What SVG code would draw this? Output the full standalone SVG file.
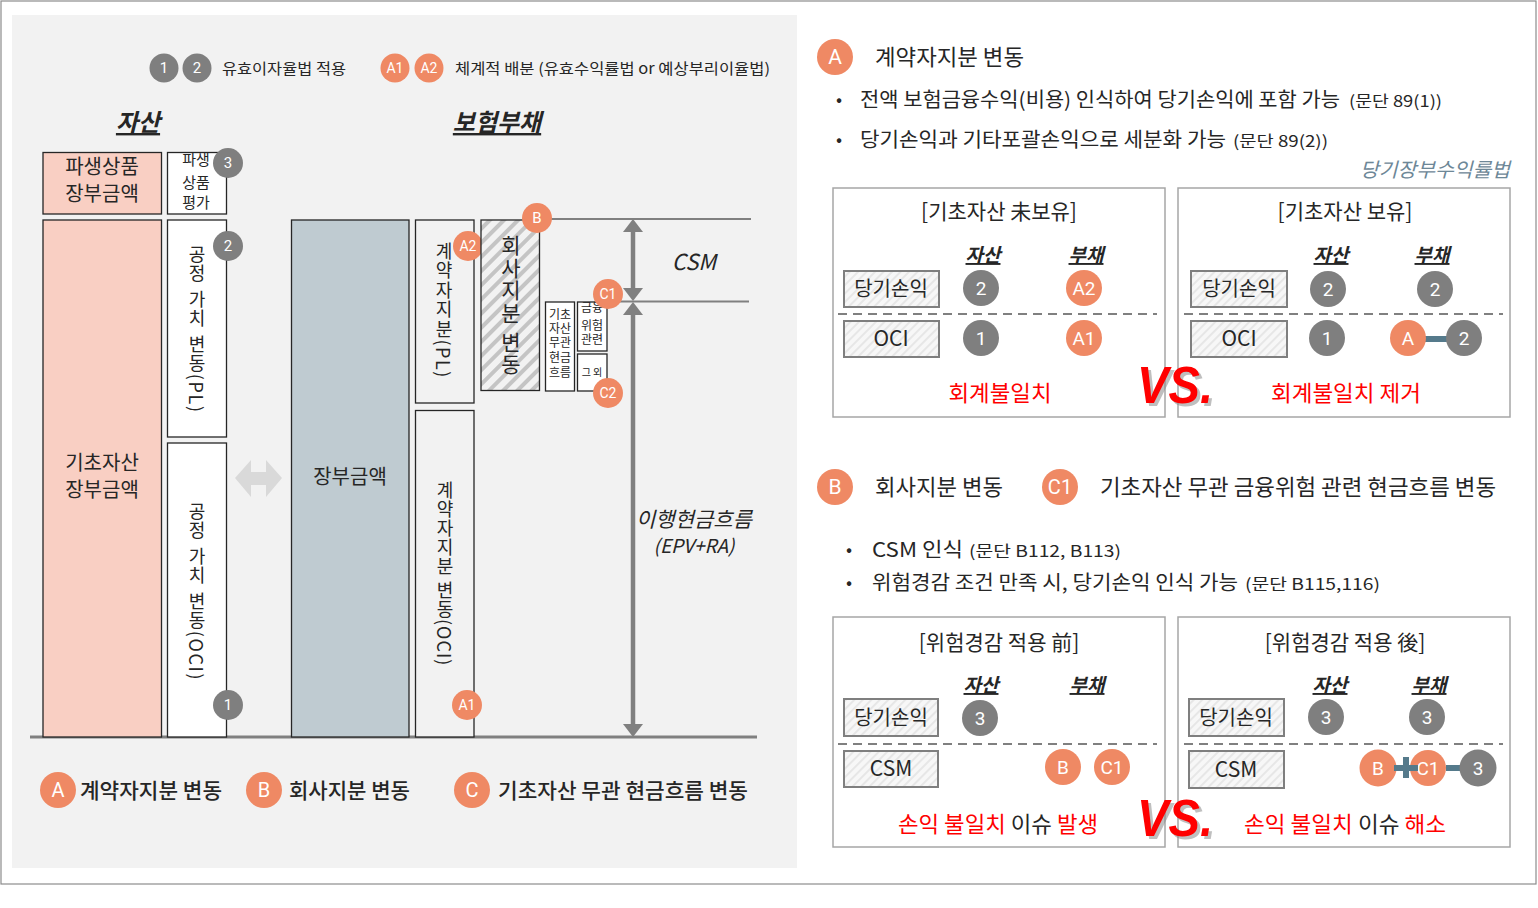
<svg xmlns="http://www.w3.org/2000/svg" width="1538" height="908" viewBox="0 0 1538 908">
<defs>
<style>
.k{font-family:"Noto Sans CJK KR","Noto Sans",sans-serif;fill:#262626}
.cl{font-family:Roboto,"Liberation Sans",sans-serif;fill:#fff;text-anchor:middle;dominant-baseline:central}
.g{fill:#7f7f7f}
.o{fill:#ef8964}
.vt{writing-mode:vertical-rl;font-family:"Noto Sans CJK KR",sans-serif;fill:#262626}
.bx{stroke:#262626;stroke-width:1.3}
.lb{fill:url(#hatchL);stroke:#7f7f7f;stroke-width:2}
.pn{fill:#fff;stroke:#a6a6a6;stroke-width:1.5}
.hd{font-weight:bold;font-style:italic;text-decoration:underline}
.red{fill:#ff0000}
.mid{text-anchor:middle}
.dash{stroke:#808080;stroke-width:2;stroke-dasharray:9 6}
.gl{stroke:#808080;fill:none}
.ah{fill:#808080}
.bar{fill:#557a8b}
.vs{font-family:"Liberation Sans",Arial,sans-serif;font-weight:bold;font-style:italic;font-size:52px}
</style>
<pattern id="hatchD" width="10" height="10" patternUnits="userSpaceOnUse" patternTransform="rotate(45)">
<rect width="10" height="10" fill="#f2f2f2"/>
<line x1="2" y1="0" x2="2" y2="10" stroke="#c4c4c4" stroke-width="4"/>
</pattern>
<pattern id="hatchL" width="6" height="6" patternUnits="userSpaceOnUse" patternTransform="rotate(45)">
<rect width="6" height="6" fill="#f7f7f7"/>
<line x1="1" y1="0" x2="1" y2="6" stroke="#dcdcdc" stroke-width="1.2"/>
</pattern>
</defs>

<rect x="1" y="1" width="1535" height="883" fill="#fff" stroke="#8c8c8c" stroke-width="1.2"/>
<rect x="12" y="15" width="785" height="853" fill="#f2f2f2"/>

<!-- Left legend -->
<g id="legend-top">
<circle cx="164" cy="68" r="14.5" class="g"/><text x="164" y="68" class="cl" font-size="15">1</text>
<circle cx="197" cy="68" r="14.5" class="g"/><text x="197" y="68" class="cl" font-size="15">2</text>
<text x="222" y="74" class="k" font-size="15" textLength="124" lengthAdjust="spacingAndGlyphs">유효이자율법 적용</text>
<circle cx="395" cy="68" r="14.5" class="o"/><text x="395" y="68" class="cl" font-size="14">A1</text>
<circle cx="429" cy="68" r="14.5" class="o"/><text x="429" y="68" class="cl" font-size="14">A2</text>
<text x="455" y="74" class="k" font-size="15" textLength="315" lengthAdjust="spacingAndGlyphs">체계적 배분  (유효수익률법 or 예상부리이율법)</text>
</g>

<text x="138" y="131" class="k hd mid" font-size="24">자산</text>
<text x="497" y="131" class="k hd mid" font-size="24">보험부채</text>

<!-- connectors / lines -->
<g id="connectors">
<line x1="30" y1="737" x2="757" y2="737" class="gl" stroke-width="3"/>
<line x1="540" y1="219" x2="751" y2="219" class="gl" stroke-width="2"/>
<line x1="610" y1="301.5" x2="749" y2="301.5" class="gl" stroke-width="2"/>
<line x1="633" y1="228" x2="633" y2="292" class="gl" stroke-width="4.5"/>
<polygon points="633,219 623,232 643,232" class="ah"/>
<polygon points="633,301 623,288 643,288" class="ah"/>
<line x1="633" y1="312" x2="633" y2="728" class="gl" stroke-width="4.5"/>
<polygon points="633,302 623,315 643,315" class="ah"/>
<polygon points="633,737 623,724 643,724" class="ah"/>
<polygon points="235,478 251,460 251,472 266,472 266,460 282,478 266,497 266,485 251,485 251,497" fill="#d9d9d9"/>
</g>

<!-- Asset side -->
<g id="deriv-amount">
<rect x="43" y="152.5" width="118.5" height="61.5" fill="#f9cfc3" class="bx"/>
<text x="102" y="174" class="k mid" font-size="20">파생상품</text>
<text x="102" y="201" class="k mid" font-size="20">장부금액</text>
</g>
<g id="deriv-eval">
<rect x="167.5" y="152.5" width="59" height="61.5" fill="#fff" class="bx"/>
<text x="196" y="165" class="k mid" font-size="15">파생</text>
<text x="196" y="188" class="k mid" font-size="15">상품</text>
<text x="196" y="208" class="k mid" font-size="15">평가</text>
<circle cx="228" cy="163" r="15" class="g"/><text x="228" y="163" class="cl" font-size="15">3</text>
</g>
<g id="underlying-amount">
<rect x="43" y="220" width="118.5" height="517" fill="#f9cfc3" class="bx"/>
<text x="102" y="470" class="k mid" font-size="20">기초자산</text>
<text x="102" y="497" class="k mid" font-size="20">장부금액</text>
</g>
<g id="fv-pl">
<rect x="167.5" y="220" width="59" height="217" fill="#fff" class="bx"/>
<text x="197" y="245" class="vt" font-size="18" letter-spacing="1.6">공정 가치 변동(PL)</text>
<circle cx="228" cy="246" r="15" class="g"/><text x="228" y="246" class="cl" font-size="15">2</text>
</g>
<g id="fv-oci">
<rect x="167.5" y="443" width="59" height="294" fill="#fff" class="bx"/>
<text x="197" y="502" class="vt" font-size="18" letter-spacing="1.6">공정 가치 변동(OCI)</text>
<circle cx="228" cy="705" r="15" class="g"/><text x="228" y="705" class="cl" font-size="15">1</text>
</g>

<!-- Liability side -->
<g id="carrying">
<rect x="291.5" y="220" width="117.5" height="517" fill="#bfcbd1" class="bx"/>
<text x="350" y="484" class="k mid" font-size="20">장부금액</text>
</g>
<g id="ph-pl">
<rect x="415.5" y="220" width="58.5" height="183" fill="#f2f2f2" class="bx"/>
<text x="444" y="242" class="vt" font-size="18" letter-spacing="1.5">계약자지분(PL)</text>
<circle cx="468" cy="246" r="15" class="o"/><text x="468" y="246" class="cl" font-size="14">A2</text>
</g>
<g id="ph-oci">
<rect x="415.5" y="410.5" width="58.5" height="326.5" fill="#f2f2f2" class="bx"/>
<text x="445" y="481" class="vt" font-size="18" letter-spacing="1">계약자지분 변동(OCI)</text>
<circle cx="467" cy="705" r="15" class="o"/><text x="467" y="705" class="cl" font-size="14">A1</text>
</g>
<g id="company">
<rect x="481" y="220" width="58.5" height="170.5" fill="url(#hatchD)" class="bx"/>
<text x="511" y="235" class="vt" font-size="21" letter-spacing="1.5">회사지분 변동</text>
<circle cx="537" cy="218" r="15" class="o"/><text x="537" y="218" class="cl" font-size="15">B</text>
</g>
<g id="unrelated-cf">
<rect x="545.5" y="302" width="29" height="89" fill="#fff" class="bx"/>
<text x="560" y="319" class="k mid" font-size="12">기초</text>
<text x="560" y="333" class="k mid" font-size="12">자산</text>
<text x="560" y="347" class="k mid" font-size="12">무관</text>
<text x="560" y="362" class="k mid" font-size="12">현금</text>
<text x="560" y="377" class="k mid" font-size="12">흐름</text>
</g>
<g id="fin-risk">
<rect x="577.5" y="302" width="29.5" height="49" fill="#fff" class="bx"/>
<text x="592" y="312" class="k mid" font-size="12">금융</text>
<text x="592" y="330" class="k mid" font-size="12">위험</text>
<text x="592" y="344" class="k mid" font-size="12">관련</text>
<circle cx="608" cy="294" r="15" class="o"/><text x="608" y="294" class="cl" font-size="14">C1</text>
</g>
<g id="other">
<rect x="577.5" y="354" width="29.5" height="37" fill="#fff" class="bx"/>
<text x="592" y="376" class="k mid" font-size="10">그 외</text>
<circle cx="608" cy="393" r="15" class="o"/><text x="608" y="393" class="cl" font-size="14">C2</text>
</g>
<g id="csm-label">
<text x="694" y="270" class="k mid" font-size="22" font-style="italic" font-family="Liberation Sans, sans-serif">CSM</text>
</g>
<g id="fcf-label">
<text x="694" y="527" class="k mid" font-size="21" font-style="italic">이행현금흐름</text>
<text x="694" y="553" class="k mid" font-size="19" font-style="italic">(EPV+RA)</text>
</g>

<!-- bottom legend -->
<g id="legend-bottom">
<circle cx="58" cy="790" r="18" class="o"/><text x="58" y="790" class="cl" font-size="20">A</text>
<text x="80" y="798" class="k" font-size="21" font-weight="500" textLength="142" lengthAdjust="spacingAndGlyphs">계약자지분 변동</text>
<circle cx="264" cy="790" r="18" class="o"/><text x="264" y="790" class="cl" font-size="20">B</text>
<text x="289" y="798" class="k" font-size="21" font-weight="500" textLength="121" lengthAdjust="spacingAndGlyphs">회사지분 변동</text>
<circle cx="472" cy="790" r="18" class="o"/><text x="472" y="790" class="cl" font-size="20">C</text>
<text x="498" y="798" class="k" font-size="21" font-weight="500" textLength="250" lengthAdjust="spacingAndGlyphs">기초자산 무관 현금흐름 변동</text>
</g>

<!-- Right side: A section -->
<g id="sectionA">
<circle cx="835" cy="57" r="18" class="o"/><text x="835" y="57" class="cl" font-size="21">A</text>
<text x="875" y="65" class="k" font-size="22" textLength="149" lengthAdjust="spacingAndGlyphs">계약자지분 변동</text>
<text x="836" y="106" class="k" font-size="18">•</text>
<text x="860" y="107" class="k" font-size="20" textLength="480" lengthAdjust="spacingAndGlyphs">전액 보험금융수익(비용) 인식하여 당기손익에 포함 가능</text>
<text x="1349" y="107" class="k" font-size="16" textLength="93" lengthAdjust="spacingAndGlyphs">(문단 89(1))</text>
<text x="836" y="146" class="k" font-size="18">•</text>
<text x="860" y="147" class="k" font-size="20" textLength="366" lengthAdjust="spacingAndGlyphs">당기손익과 기타포괄손익으로  세분화 가능</text>
<text x="1233" y="147" class="k" font-size="16" textLength="95" lengthAdjust="spacingAndGlyphs">(문단 89(2))</text>
<text x="1510" y="177" class="k" font-size="20" font-style="italic" text-anchor="end" style="fill:#6d8797" textLength="150" lengthAdjust="spacingAndGlyphs">당기장부수익률법</text>
</g>

<g id="panel1">
<rect x="833" y="188" width="332" height="229" class="pn"/>
<text x="999" y="219" class="k mid" font-size="21">[기초자산 未보유]</text>
<text x="983" y="262" class="k hd mid" font-size="19">자산</text>
<text x="1086" y="262" class="k hd mid" font-size="19">부채</text>
<rect x="844" y="271" width="95" height="36" class="lb"/>
<text x="891" y="296" class="k mid" font-size="20">당기손익</text>
<line x1="838" y1="314" x2="1157" y2="314" class="dash"/>
<rect x="844" y="321" width="95" height="36" class="lb"/>
<text x="891" y="346" class="k mid" font-size="21" font-family="Liberation Sans, sans-serif">OCI</text>
<circle cx="981" cy="288" r="18" class="g"/><text x="981" y="288" class="cl" font-size="19">2</text>
<circle cx="1084" cy="288" r="18" class="o"/><text x="1084" y="288" class="cl" font-size="19">A2</text>
<circle cx="981" cy="338" r="18" class="g"/><text x="981" y="338" class="cl" font-size="19">1</text>
<circle cx="1084" cy="338" r="18" class="o"/><text x="1084" y="338" class="cl" font-size="19">A1</text>
<text x="1000" y="401" class="k mid red" font-size="22" textLength="103" lengthAdjust="spacingAndGlyphs">회계불일치</text>
</g>

<g id="panel2">
<rect x="1178" y="188" width="332" height="229" class="pn"/>
<text x="1345" y="219" class="k mid" font-size="21">[기초자산 보유]</text>
<text x="1331" y="262" class="k hd mid" font-size="19">자산</text>
<text x="1432" y="262" class="k hd mid" font-size="19">부채</text>
<rect x="1191" y="271" width="96" height="36" class="lb"/>
<text x="1239" y="296" class="k mid" font-size="20">당기손익</text>
<line x1="1184" y1="314" x2="1503" y2="314" class="dash"/>
<rect x="1191" y="321" width="96" height="36" class="lb"/>
<text x="1239" y="346" class="k mid" font-size="21" font-family="Liberation Sans, sans-serif">OCI</text>
<circle cx="1328" cy="289" r="18" class="g"/><text x="1328" y="289" class="cl" font-size="19">2</text>
<circle cx="1435" cy="289" r="18" class="g"/><text x="1435" y="289" class="cl" font-size="19">2</text>
<circle cx="1327" cy="338" r="18" class="g"/><text x="1327" y="338" class="cl" font-size="19">1</text>
<rect x="1420" y="336" width="32" height="6" class="bar"/>
<circle cx="1408" cy="338" r="18" class="o"/><text x="1408" y="338" class="cl" font-size="19">A</text>
<circle cx="1464" cy="338" r="18" class="g"/><text x="1464" y="338" class="cl" font-size="19">2</text>
<text x="1346" y="401" class="k mid red" font-size="22" textLength="150" lengthAdjust="spacingAndGlyphs">회계불일치 제거</text>
</g>

<g id="vs1">
<text x="1140" y="406" class="vs" fill="#8c8c8c" opacity="0.55" textLength="76" lengthAdjust="spacingAndGlyphs">VS.</text>
<text x="1137" y="403" class="vs" fill="#ff0000" textLength="76" lengthAdjust="spacingAndGlyphs">VS.</text>
</g>

<!-- B / C1 section -->
<g id="sectionB">
<circle cx="835" cy="487" r="18" class="o"/><text x="835" y="487" class="cl" font-size="21">B</text>
<text x="875" y="495" class="k" font-size="22" textLength="128" lengthAdjust="spacingAndGlyphs">회사지분 변동</text>
<circle cx="1060" cy="487" r="18" class="o"/><text x="1060" y="487" class="cl" font-size="20">C1</text>
<text x="1100" y="495" class="k" font-size="22" textLength="396" lengthAdjust="spacingAndGlyphs">기초자산 무관 금융위험 관련 현금흐름 변동</text>
<text x="846" y="556" class="k" font-size="18">•</text>
<text x="872" y="557" class="k" font-size="20" textLength="91" lengthAdjust="spacingAndGlyphs">CSM 인식</text>
<text x="969" y="557" class="k" font-size="16" textLength="152" lengthAdjust="spacingAndGlyphs">(문단 B112, B113)</text>
<text x="846" y="589" class="k" font-size="18">•</text>
<text x="872" y="590" class="k" font-size="20" textLength="366" lengthAdjust="spacingAndGlyphs">위험경감 조건 만족 시, 당기손익 인식 가능</text>
<text x="1245" y="590" class="k" font-size="16" textLength="135" lengthAdjust="spacingAndGlyphs">(문단 B115,116)</text>
</g>

<g id="panel3">
<rect x="833" y="617" width="332" height="230" class="pn"/>
<text x="999" y="650" class="k mid" font-size="21">[위험경감 적용 前]</text>
<text x="981" y="692" class="k hd mid" font-size="19">자산</text>
<text x="1087" y="692" class="k hd mid" font-size="19">부채</text>
<rect x="844" y="699" width="94" height="37" class="lb"/>
<text x="891" y="725" class="k mid" font-size="20">당기손익</text>
<line x1="838" y1="744" x2="1157" y2="744" class="dash"/>
<rect x="844" y="751" width="94" height="36" class="lb"/>
<text x="891" y="776" class="k mid" font-size="21" font-family="Liberation Sans, sans-serif">CSM</text>
<circle cx="980" cy="718" r="18" class="g"/><text x="980" y="718" class="cl" font-size="19">3</text>
<circle cx="1063" cy="767" r="18" class="o"/><text x="1063" y="767" class="cl" font-size="19">B</text>
<circle cx="1112" cy="767" r="18" class="o"/><text x="1112" y="767" class="cl" font-size="19">C1</text>
<text x="998" y="832" class="k mid" font-size="22" textLength="200" lengthAdjust="spacingAndGlyphs"><tspan class="red">손익 불일치</tspan> 이슈 <tspan class="red">발생</tspan></text>
</g>

<g id="panel4">
<rect x="1178" y="617" width="332" height="230" class="pn"/>
<text x="1345" y="650" class="k mid" font-size="21">[위험경감 적용 後]</text>
<text x="1330" y="692" class="k hd mid" font-size="19">자산</text>
<text x="1429" y="692" class="k hd mid" font-size="19">부채</text>
<rect x="1189" y="699" width="95" height="37" class="lb"/>
<text x="1236" y="725" class="k mid" font-size="20">당기손익</text>
<line x1="1184" y1="744" x2="1503" y2="744" class="dash"/>
<rect x="1189" y="751" width="95" height="37" class="lb"/>
<text x="1236" y="777" class="k mid" font-size="21" font-family="Liberation Sans, sans-serif">CSM</text>
<circle cx="1326" cy="717" r="18" class="g"/><text x="1326" y="717" class="cl" font-size="19">3</text>
<circle cx="1427" cy="717" r="18" class="g"/><text x="1427" y="717" class="cl" font-size="19">3</text>
<rect x="1446" y="765" width="16" height="6" class="bar"/>
<circle cx="1378" cy="768" r="18.5" class="o"/><text x="1378" y="768" class="cl" font-size="19">B</text>
<circle cx="1428" cy="768" r="18" class="o"/><text x="1428" y="768" class="cl" font-size="19">C1</text>
<circle cx="1478" cy="768" r="18.5" class="g"/><text x="1478" y="768" class="cl" font-size="19">3</text>
<rect x="1394" y="765" width="24" height="6" class="bar"/>
<rect x="1403" y="757" width="6" height="21" class="bar"/>
<text x="1345" y="832" class="k mid" font-size="22" textLength="202" lengthAdjust="spacingAndGlyphs"><tspan class="red">손익 불일치</tspan> 이슈 <tspan class="red">해소</tspan></text>
</g>

<g id="vs2">
<text x="1140" y="839" class="vs" fill="#8c8c8c" opacity="0.55" textLength="76" lengthAdjust="spacingAndGlyphs">VS.</text>
<text x="1137" y="836" class="vs" fill="#ff0000" textLength="76" lengthAdjust="spacingAndGlyphs">VS.</text>
</g>
</svg>
